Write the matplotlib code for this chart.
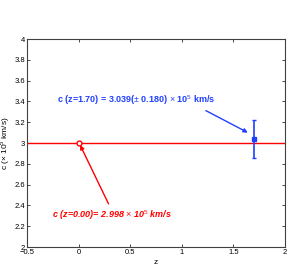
import matplotlib
matplotlib.use('Agg')
import matplotlib.pyplot as plt

plt.rcParams['font.family'] = ['Liberation Sans', 'DejaVu Sans']
plt.rcParams['mathtext.fontset'] = 'custom'
plt.rcParams['mathtext.rm'] = 'Liberation Sans'
plt.rcParams['mathtext.bf'] = 'Liberation Sans:bold'

# measurements
z_local = [0.0]
c_local = [2.998]
z_far = [1.70]
c_far = [3.039]
c_far_err = [0.180]
c_ref = 2.998

fig = plt.figure(figsize=(2.97, 2.70), dpi=100)
ax = fig.add_axes([27 / 297, 1 - 247 / 270, 258 / 297, 208 / 270])

ax.axhline(c_ref, color='red', lw=1.0)
ax.plot(z_local, c_local, 'o', mfc='white', mec='red', ms=3.5, mew=1.0)
ax.errorbar(z_far, c_far, yerr=c_far_err, fmt='s', color='#2040ff',
            ms=3.5, lw=1.2, capsize=1.5, capthick=1.0)

ax.annotate(r'c (z=1.70) = 3.039($\pm$ 0.180) $\times$ 10$^5$ km/s',
            xy=(1.64, 3.10), xytext=(-0.21, 3.41),
            color='#2040ff', fontsize=6.5, fontweight='bold',
            va='center', ha='left',
            arrowprops=dict(arrowstyle='-|>', color='#2040ff', lw=1.0,
                            mutation_scale=6, shrinkA=1, shrinkB=0,
                            relpos=(0.9, 0.0)))
ax.annotate(r'c (z=0.00)= 2.998 $\times$ 10$^5$ km/s',
            xy=(0.015, 2.98), xytext=(-0.26, 2.31),
            color='red', fontsize=6.5, fontweight='bold', style='italic',
            va='center', ha='left',
            arrowprops=dict(arrowstyle='-|>', color='red', lw=1.0,
                            mutation_scale=6, shrinkA=1, shrinkB=0,
                            relpos=(0.49, 1.0)))

ax.set_xlim(-0.5, 2)
ax.set_ylim(2, 4)
ax.set_xticks([-0.5, 0, 0.5, 1, 1.5, 2])
ax.set_xticklabels(['\u22120.5', '0', '0.5', '1', '1.5', '2'])
ax.set_yticks([2, 2.2, 2.4, 2.6, 2.8, 3, 3.2, 3.4, 3.6, 3.8, 4])
ax.set_yticklabels(['2', '2.2', '2.4', '2.6', '2.8', '3', '3.2', '3.4',
                    '3.6', '3.8', '4'])
ax.tick_params(direction='in', labelsize=5.5, length=2, width=0.5,
               top=True, right=True, pad=1.5)
for s in ax.spines.values():
    s.set_linewidth(0.8)
    s.set_color('#404040')
ax.set_xlabel('z', fontsize=6, labelpad=2)
ax.set_ylabel(r'c ($\times$ 10$^5$ km/s)', fontsize=6)
ax.yaxis.set_label_coords(-0.06, 0.5)

fig.savefig('out.png', dpi=100)
